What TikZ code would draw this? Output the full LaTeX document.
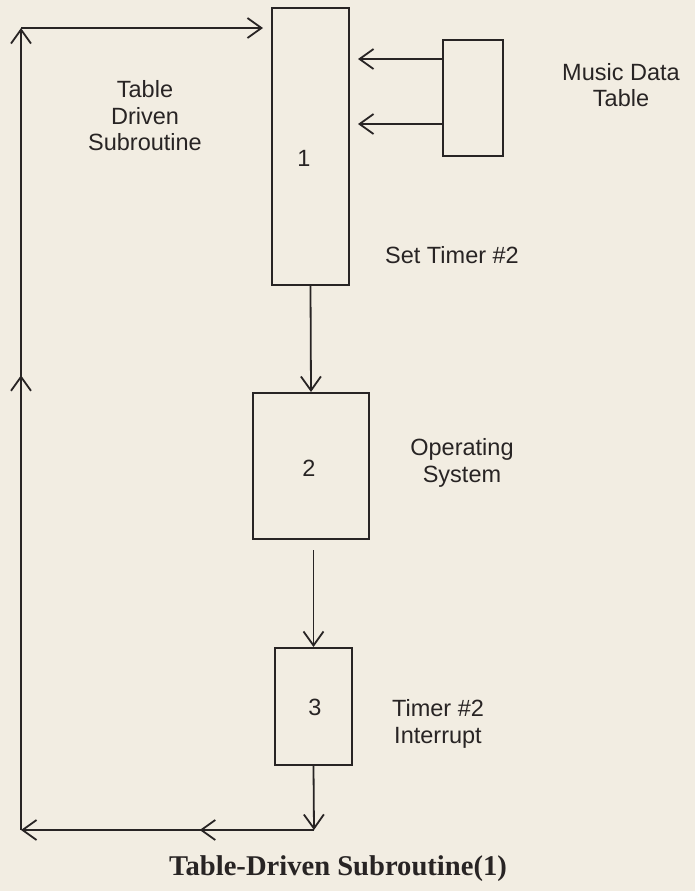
\documentclass[tikz,border=0pt]{standalone}
\usepackage{fontspec}
\setmainfont{Liberation Serif}
\setsansfont{Liberation Sans}
\usetikzlibrary{arrows.meta,decorations.markings}
\definecolor{paper}{RGB}{242,237,226}
\definecolor{ink}{RGB}{40,36,36}
\begin{document}
\begin{tikzpicture}[x=0.5pt,y=-0.5pt,
  every node/.style={text=ink},
  box/.style={draw=ink,line width=1pt,inner sep=0pt,font=\sffamily\fontsize{11.5}{13.25}\selectfont},
  lbl/.style={align=center,font=\sffamily\fontsize{11.75}{13.25}\selectfont},
  arr/.style={draw=ink,line width=0.9pt,-{Straight Barb[length=7pt,width=10pt,line width=0.9pt]}},
  plain/.style={draw=ink,line width=0.9pt},
  midarr/.style={postaction={decorate},decoration={markings,
     mark=at position #1 with {\arrow{Straight Barb[length=7pt,width=10pt,line width=0.9pt]}}}}
]
\fill[paper] (0,0) rectangle (695,891);
\useasboundingbox (0,0) rectangle (695,891);

% boxes
\node[box,minimum width=38.5pt,minimum height=138.5pt] (b1) at (310.5,146.5) {};
\node[box,minimum width=30pt,minimum height=58pt] (mb) at (473,98) {};
\node[box,minimum width=58pt,minimum height=73pt] (b2) at (311,466) {};
\node[box,minimum width=38.5pt,minimum height=58.5pt] (b3) at (313.5,706.5) {};

% numbers in boxes
\node[lbl] (n1) at (304,158) {1};
\node[lbl] (n2) at (309,468) {2};
\node[lbl] (n3) at (315,707) {3};

% labels
\node[lbl] (tds) at (145,116) {Table\\Driven\\Subroutine};
\node[lbl] (mdt) at (621,85) {Music Data\\Table};
\node[lbl] (st) at (452,255) {Set Timer \#2};
\node[lbl] (os) at (462,463) {Operating\\System};
\node[lbl] (ti) at (438,724) {Timer \#2\\Interrupt};
\node[font=\rmfamily\bfseries\fontsize{14.3}{16}\selectfont] (cap) at (338,869) {Table-Driven Subroutine(1)};

% loop coordinates
\coordinate (br) at (314,830);
\coordinate (bl) at (21,830);
\coordinate (tl) at (21,28);

% connectors
\draw[arr] (b1.south) -- (b2.north);
\draw[arr,shorten <=5pt] (b3.north |- b2.south) -- (b3.north);
\draw[arr] (b3.south) -- (br);
\draw[arr,midarr=0.39] (br) -- (bl);
\draw[arr,midarr=0.567] (bl) -- (tl);
\draw[arr,shorten >=4pt] (tl) -- (tl -| b1.west);
\draw[arr,shorten >=4pt] ([yshift=19.5pt]mb.west) -- ([yshift=19.5pt]mb.west -| b1.east);
\draw[arr,shorten >=4pt] ([yshift=-13pt]mb.west) -- ([yshift=-13pt]mb.west -| b1.east);
\end{tikzpicture}
\end{document}
